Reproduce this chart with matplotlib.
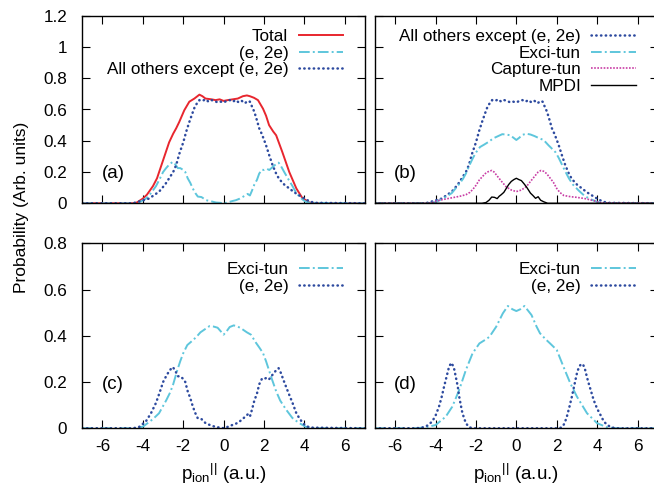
import matplotlib
matplotlib.use("Agg")
import matplotlib.pyplot as plt

plt.rcParams['font.family'] = ['Liberation Sans', 'DejaVu Sans']
plt.rcParams['mathtext.fontset'] = 'custom'
plt.rcParams['mathtext.rm'] = 'Liberation Sans'
plt.rcParams['mathtext.it'] = 'Liberation Sans:italic'
plt.rcParams['axes.unicode_minus'] = False

#####       data: ion momentum distributions       #####
# total yield, panel (a)
total_x = [-7, -4.5, -4.3, -4.0, -3.8, -3.5, -3.3, -3.0, -2.7, -2.5, -2.35, -2.2, -1.95, -1.7, -1.45,
           -1.2, -1.05, -0.9, -0.6, -0.4, -0.2, 0, 0.2, 0.45, 0.7, 0.95, 1.15, 1.3, 1.5, 1.7, 1.95,
           2.1, 2.25, 2.45, 2.6, 2.9, 3.25, 3.6, 3.9, 4.25, 4.5, 7]
total_y = [0, 0, 0.005, 0.03, 0.055, 0.11, 0.16, 0.275, 0.39, 0.445, 0.48, 0.52, 0.595, 0.65, 0.67,
           0.695, 0.685, 0.67, 0.665, 0.66, 0.665, 0.655, 0.66, 0.665, 0.67, 0.685, 0.69, 0.685, 0.675, 0.66, 0.605,
           0.56, 0.5, 0.46, 0.435, 0.33, 0.2, 0.095, 0.033, 0.005, 0, 0]

# all channels except (e, 2e), panels (a) and (b)
others_x = [-7, -4.5, -4.15, -3.7, -3.2, -2.9, -2.7, -2.5, -2.35, -2.2, -2.0, -1.85, -1.7, -1.55, -1.45,
            -1.3, -1.2, -1.05, -0.9, -0.75, -0.6, -0.45, -0.3, -0.15, 0, 0.15, 0.3, 0.45, 0.6, 0.75,
            0.9, 1.05, 1.2, 1.3, 1.4, 1.52, 1.65, 1.76, 1.9, 2.09, 2.25, 2.42, 2.6, 2.75, 3.0, 3.25,
            3.5, 3.75, 4.0, 4.25, 4.5, 7]
others_y = [0, 0, 0.013, 0.03, 0.074, 0.12, 0.16, 0.2, 0.245, 0.315, 0.39, 0.46, 0.52, 0.575, 0.61,
            0.645, 0.66, 0.655, 0.665, 0.65, 0.66, 0.655, 0.645, 0.65, 0.645, 0.655, 0.66, 0.65, 0.66, 0.645,
            0.655, 0.64, 0.655, 0.65, 0.62, 0.585, 0.53, 0.48, 0.44, 0.375, 0.31, 0.245, 0.19, 0.155, 0.12, 0.095,
            0.07, 0.05, 0.03, 0.013, 0.003, 0]

# (e, 2e) channel, panels (a) and (c)
e2e_x = [-7, -4.5, -4.2, -3.85, -3.6, -3.35, -3.15, -3.0, -2.85, -2.68, -2.52, -2.4, -2.27, -2.15, -2.02,
         -1.9, -1.78, -1.65, -1.53, -1.4, -1.28, -1.1, -0.87, -0.6, -0.38, -0.15, 0.03, 0.25, 0.45, 0.61,
         0.8, 1.0, 1.19, 1.3, 1.4, 1.52, 1.65, 1.76, 1.9, 2.01, 2.15, 2.26, 2.45, 2.59, 2.72, 2.83,
         3.0, 3.2, 3.41, 3.6, 3.74, 3.9, 4.07, 4.3, 7]
e2e_y = [0, 0, 0.005, 0.03, 0.065, 0.11, 0.16, 0.2, 0.225, 0.25, 0.265, 0.25, 0.225, 0.225, 0.215,
         0.2, 0.16, 0.13, 0.095, 0.065, 0.043, 0.04, 0.02, 0.012, 0.005, 0.003, 0.0, 0.008, 0.015, 0.02,
         0.03, 0.045, 0.06, 0.05, 0.08, 0.12, 0.15, 0.19, 0.215, 0.213, 0.22, 0.213, 0.235, 0.25, 0.26, 0.24,
         0.2, 0.155, 0.11, 0.065, 0.045, 0.025, 0.01, 0.003, 0]

# excitation-tunnelling, panels (b) and (c)
exci_x = [-7, -4.5, -4.0, -3.8, -3.5, -3.2, -2.85, -2.65, -2.5, -2.3, -2.15, -2.0, -1.8, -1.6, -1.35,
          -1.15, -0.9, -0.7, -0.5, -0.3, -0.15, 0, 0.15, 0.3, 0.5, 0.7, 0.9, 1.15, 1.35, 1.6,
          1.8, 1.95, 2.1, 2.25, 2.4, 2.6, 2.8, 3.1, 3.4, 3.7, 4.05, 4.5, 7]
exci_y = [0, 0, 0.007, 0.02, 0.04, 0.065, 0.12, 0.155, 0.19, 0.25, 0.29, 0.325, 0.36, 0.375, 0.395,
          0.415, 0.43, 0.442, 0.44, 0.435, 0.42, 0.405, 0.42, 0.438, 0.445, 0.44, 0.43, 0.415, 0.405, 0.37,
          0.345, 0.325, 0.29, 0.25, 0.21, 0.16, 0.12, 0.08, 0.045, 0.025, 0.007, 0, 0]

# capture-tunnelling, panel (b)
capt_x = [-7, -4.5, -4.2, -3.8, -3.2, -2.8, -2.5, -2.3, -2.15, -2.0, -1.83, -1.65, -1.5, -1.35, -1.22,
          -1.1, -0.92, -0.7, -0.5, -0.25, 0, 0.25, 0.5, 0.7, 0.92, 1.08, 1.22, 1.35, 1.5, 1.65,
          1.83, 2.0, 2.15, 2.35, 2.7, 3.0, 3.4, 3.83, 4.2, 7]
capt_y = [0, 0, 0.003, 0.02, 0.035, 0.045, 0.055, 0.07, 0.09, 0.115, 0.15, 0.175, 0.195, 0.205, 0.21,
          0.2, 0.17, 0.135, 0.105, 0.085, 0.075, 0.085, 0.107, 0.14, 0.175, 0.2, 0.21, 0.205, 0.19, 0.165,
          0.135, 0.095, 0.07, 0.05, 0.042, 0.038, 0.03, 0.017, 0.003, 0]

# multiphoton double ionisation, panel (b)
mpdi_x = [-7, -1.7, -1.5, -1.35, -1.22, -1.08, -0.95, -0.85, -0.75, -0.62, -0.5, -0.38, -0.25, -0.12,
          0, 0.12, 0.25, 0.38, 0.5, 0.6, 0.7, 0.82, 0.95, 1.08, 1.2, 1.35, 1.55, 7]
mpdi_y = [0, 0, 0.005, 0.02, 0.04, 0.038, 0.03, 0.045, 0.055, 0.07, 0.095, 0.12, 0.14, 0.152,
          0.16, 0.152, 0.145, 0.125, 0.105, 0.085, 0.065, 0.05, 0.032, 0.042, 0.02, 0.01, 0, 0]

# panel (d): excitation-tunnelling and (e, 2e)
exci_d_x = [-7, -5.0, -4.5, -4.0, -3.5, -3.17, -2.83, -2.5, -2.17, -1.83, -1.5, -1.33, -1.0, -0.67, -0.42,
            -0.2, 0, 0.2, 0.4, 0.75, 1.0, 1.17, 1.45, 1.67, 2.0, 2.33, 2.67, 3.0, 3.5, 4.0, 4.5, 5.0, 7]
exci_d_y = [0, 0, 0.004, 0.014, 0.05, 0.094, 0.166, 0.252, 0.324, 0.367, 0.385, 0.396, 0.439, 0.497, 0.529,
            0.515, 0.507, 0.515, 0.529, 0.49, 0.44, 0.411, 0.385, 0.367, 0.339, 0.267, 0.195, 0.137, 0.065, 0.022,
            0.004, 0, 0]

e2e_d_x = [-7, -5.0, -4.67, -4.4, -4.17, -4.0, -3.83, -3.7, -3.58, -3.45, -3.33, -3.22, -3.1, -3.0, -2.9,
           -2.83, -2.75, -2.67, -2.5, -2.33, -2.1, 2.1, 2.25, 2.38, 2.5, 2.62, 2.75, 2.88, 3.0, 3.1,
           3.2, 3.3, 3.4, 3.5, 3.58, 3.7, 3.83, 4.0, 4.17, 4.33, 4.5, 4.7, 4.9, 7]
e2e_d_y = [0, 0, 0.003, 0.012, 0.029, 0.055, 0.094, 0.135, 0.18, 0.225, 0.267, 0.283, 0.265, 0.223, 0.18,
           0.137, 0.1, 0.065, 0.022, 0.004, 0, 0, 0.004, 0.02, 0.05, 0.09, 0.137, 0.19, 0.238, 0.265,
           0.277, 0.277, 0.255, 0.22, 0.195, 0.16, 0.122, 0.085, 0.057, 0.03, 0.014, 0.005, 0, 0]

x_ticks = [-6, -4, -2, 0, 2, 4, 6]
y_ticks_top = [0, 0.2, 0.4, 0.6, 0.8, 1.0, 1.2]
y_ticks_bottom = [0, 0.2, 0.4, 0.6, 0.8]

RED = '#e8262e'
CYAN = '#5ec6dc'
NAVY = '#2d4a9f'
MAGENTA = '#c83ca4'

dashdot = dict(color=CYAN, lw=1.4, dashes=(5.5, 1.6, 1, 1.6))
dotted = dict(color=NAVY, lw=1.8, dashes=(0.15, 1.75), dash_capstyle='round')

#####       figure layout (pixels)       #####
W, H = 654, 487
fig = plt.figure(figsize=(W / 100, H / 100), dpi=100)


def box(l, b, r, t):
    return [l / W, 1 - b / H, (r - l) / W, (b - t) / H]


ax_a = fig.add_axes(box(82.3, 203.3, 365, 15.7))
ax_b = fig.add_axes(box(375, 203.3, 657.7, 15.7))
ax_c = fig.add_axes(box(82.3, 428.3, 365, 243.3))
ax_d = fig.add_axes(box(375, 428.3, 657.7, 243.3))

# (a)
ax_a.plot(total_x, total_y, color=RED, lw=1.4, label='Total')
ax_a.plot(e2e_x, e2e_y, label='(e, 2e)', **dashdot)
ax_a.plot(others_x, others_y, label='All others except (e, 2e)', **dotted)

# (b)
ax_b.plot(others_x, others_y, label='All others except (e, 2e)', **dotted)
ax_b.plot(exci_x, exci_y, label='Exci-tun', **dashdot)
ax_b.plot(capt_x, capt_y, color=MAGENTA, lw=1.2, dashes=(1, 0.9), label='Capture-tun')
ax_b.plot(mpdi_x, mpdi_y, color='black', lw=1.0, label='MPDI')

# (c)
ax_c.plot(exci_x, exci_y, label='Exci-tun', **dashdot)
ax_c.plot(e2e_x, e2e_y, label='(e, 2e)', **dotted)

# (d)
ax_d.plot(exci_d_x, exci_d_y, label='Exci-tun', **dashdot)
ax_d.plot(e2e_d_x, e2e_d_y, label='(e, 2e)', **dotted)

for ax, tag in zip([ax_a, ax_b, ax_c, ax_d], ['(a)', '(b)', '(c)', '(d)']):
    top = ax in (ax_a, ax_b)
    ax.set_xlim(-7, 7)
    ax.set_ylim(0, 1.2 if top else 0.8)
    ax.set_xticks(x_ticks)
    ax.set_yticks(y_ticks_top if top else y_ticks_bottom)
    ax.yaxis.set_major_formatter(matplotlib.ticker.FormatStrFormatter('%g'))
    ax.tick_params(direction='in', top=True, right=True, length=5.5, width=0.8,
                   labelsize=12.3, colors='black')
    ax.tick_params(axis='x', pad=7.5)
    ax.tick_params(axis='y', pad=11)
    if top:
        ax.tick_params(labelbottom=False)
    if ax in (ax_b, ax_d):
        ax.tick_params(labelleft=False)
    for s in ax.spines.values():
        s.set_linewidth(1.0)
    ax.text(-6.05, 0.19, tag, fontsize=13.5, va='center', ha='left')
    ax.legend(loc='upper right', bbox_to_anchor=(0.922, 0.929 if top else 0.897),
              frameon=False, markerfirst=False, handlelength=2.6, handletextpad=0.6,
              labelspacing=0.1, borderpad=0, borderaxespad=0, fontsize=12.3)

xlab = r'${\mathrm{p}_{\mathrm{ion}}}^{\mathrm{||}}$ (a.u.)'
ax_c.set_xlabel(xlab, fontsize=13.5, labelpad=6)
ax_d.set_xlabel(xlab, fontsize=13.5, labelpad=6)

fig.text(22 / W, 1 - 207 / H, 'Probability (Arb. units)', rotation=90,
         va='center', ha='center', fontsize=12.5)

plt.savefig('out.png', dpi=100)
